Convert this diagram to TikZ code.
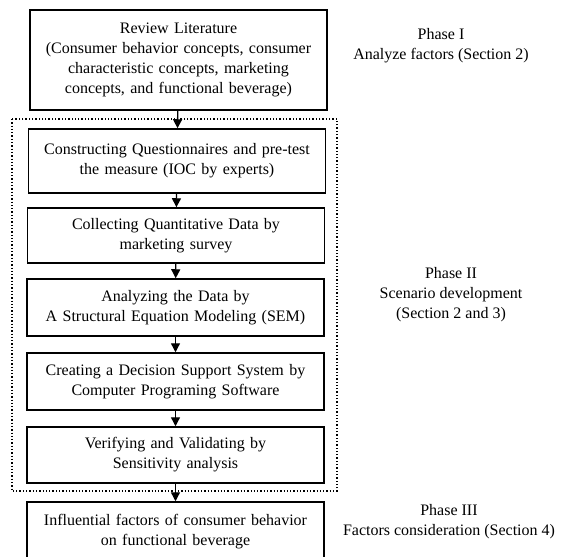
\documentclass[tikz,border=0pt]{standalone}
\usepackage{fontspec}
\setmainfont{Liberation Serif}
\usepackage{tikz}
\usetikzlibrary{arrows.meta}

\tikzset{
    stepbox/.style={draw, line width=1.5pt, text width=289pt, align=center, minimum width=297pt, inner sep=4pt},
    flow/.style={line width=1.3pt, -{Triangle[length=9pt,width=9pt]}},
    phase/.style={align=center}
}

\begin{document}
\begin{tikzpicture}[x=1pt, y=-1pt, font=\fontsize{16}{20}\selectfont]
        \clip (0,0) rectangle (572,556);
        \useasboundingbox (0,0) rectangle (572,556);
        % phase II frame
        \draw [dotted, line width=1.3pt] (12,119) rectangle (337,491);
        \node [stepbox, minimum height=100pt] (review) at (178.5,60) {Review Literature\\(Consumer behavior concepts, consumer\\characteristic concepts, marketing\\concepts, and functional beverage)};
        \node [stepbox, minimum height=64pt] (quest) at (177,161) {Constructing Questionnaires and pre-test\\the measure (IOC by experts)};
        \node [stepbox, minimum height=55pt] (collect) at (176,235.5) {Collecting Quantitative Data by\\marketing survey};
        \node [stepbox, minimum height=57pt] (analyze) at (175.5,307.5) {Analyzing the Data by\\A Structural Equation Modeling (SEM)};
        \node [stepbox, minimum height=57pt] (dss) at (175.5,381.5) {Creating a Decision Support System by\\Computer Programing Software};
        \node [stepbox, minimum height=56pt] (verify) at (175.5,455) {Verifying and Validating by\\Sensitivity analysis};
        \node [stepbox, minimum height=60pt] (factors) at (175.5,532) {Influential factors of consumer behavior\\on functional beverage};
        \draw [flow] (review) to (quest);
        \draw [flow] (quest) to (collect);
        \draw [flow] (collect) to (analyze);
        \draw [flow] (analyze) to (dss);
        \draw [flow] (dss) to (verify);
        \draw [flow] (verify) to (factors);
        \node [phase] (ph1) at (441,45.5) {Phase I\\Analyze factors (Section 2)};
        \node [phase] (ph2) at (451,294.5) {Phase II\\Scenario development\\(Section 2 and 3)};
        \node [phase] (ph3) at (449,522) {Phase III\\Factors consideration (Section 4)};
    \end{tikzpicture}
\end{document}
